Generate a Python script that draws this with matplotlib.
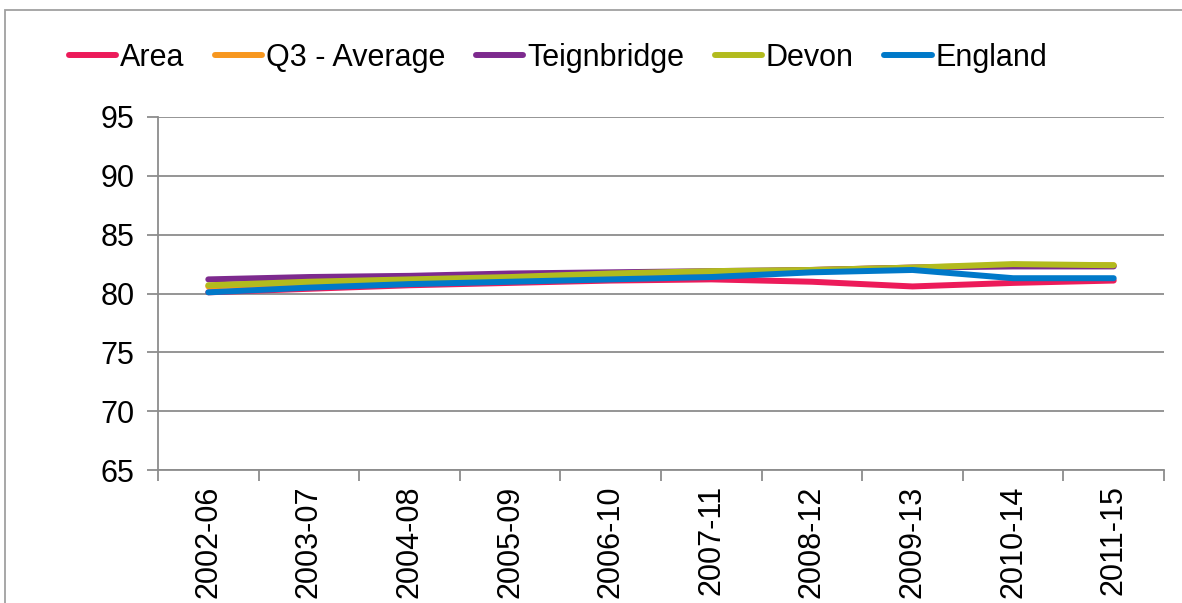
import matplotlib

matplotlib.use("Agg")
import matplotlib.pyplot as plt
from matplotlib.patches import Rectangle

# --- Data -------------------------------------------------------------------
periods = ["2002-06", "2003-07", "2004-08", "2005-09", "2006-10",
           "2007-11", "2008-12", "2009-13", "2010-14", "2011-15"]
area = [80.1, 80.4, 80.7, 80.9, 81.1, 81.2, 81.0, 80.6, 80.9, 81.1]
q3_average = [80.6, 80.9, 81.1, 81.3, 81.6, 81.8, 82.0, 82.2, 82.4, 82.4]
teignbridge = [81.2, 81.4, 81.5, 81.7, 81.8, 81.9, 82.0, 82.2, 82.3, 82.3]
devon = [80.7, 81.0, 81.2, 81.4, 81.7, 81.9, 82.0, 82.2, 82.5, 82.4]
england = [80.1, 80.5, 80.8, 81.0, 81.2, 81.4, 81.8, 82.0, 81.3, 81.3]
y_ticks = [65, 70, 75, 80, 85, 90, 95]

SERIES = [
    ("Area", area, "#EC1B5A"),
    ("Q3 - Average", q3_average, "#F7971F"),
    ("Teignbridge", teignbridge, "#7D2A8E"),
    ("Devon", devon, "#B2BB1E"),
    ("England", england, "#0079C9"),
]

GRID = "#8C8C8C"
FS = 22

plt.rcParams["font.family"] = ["Liberation Sans", "DejaVu Sans"]

fig = plt.figure(figsize=(11.82, 6.03), dpi=100)
ax = fig.add_axes([158 / 1182, 1 - 470 / 603, (1164 - 158) / 1182, (470 - 117) / 603])

# outer chart border (runs off the right and bottom of the picture)
fig.patches.append(Rectangle((5 / 1182, -0.1), 1.2, 1 - 10 / 603 + 0.1,
                             transform=fig.transFigure, fill=False,
                             edgecolor="#A0A0A0", linewidth=1.3))

x = list(range(len(periods)))
for label, values, color in SERIES:
    ax.plot(x, values, color=color, linewidth=4.3, solid_capstyle="round",
            solid_joinstyle="round", label=label)

ax.set_xlim(-0.5, len(periods) - 0.5)
ax.set_ylim(65, 95)
ax.set_yticks(y_ticks)
# category boundaries get the tick marks, the labels sit between them
ax.set_xticks([i - 0.5 for i in range(len(periods) + 1)], minor=False)
ax.set_xticklabels([])
ax.set_xticks(x, minor=True)
ax.set_xticklabels(periods, minor=True, rotation=90, fontsize=FS)
ax.tick_params(axis="x", which="minor", length=0, pad=11)
ax.tick_params(axis="x", which="major", length=8, width=1.3, color=GRID, direction="out")
ax.tick_params(axis="y", length=8, width=1.3, color=GRID, labelsize=FS, pad=9)

ax.yaxis.grid(True, color=GRID, linewidth=1.3)
ax.set_axisbelow(True)
for side in ("top", "right"):
    ax.spines[side].set_visible(False)
for side in ("left", "bottom"):
    ax.spines[side].set_color(GRID)
    ax.spines[side].set_linewidth(1.3)

fig.legend(loc="center", bbox_to_anchor=(558 / 1182, 1 - 58 / 603), ncol=5,
           frameon=False, fontsize=FS, handlelength=1.55, handletextpad=0.12,
           columnspacing=1.0)

fig.savefig("out.png", dpi=100)
